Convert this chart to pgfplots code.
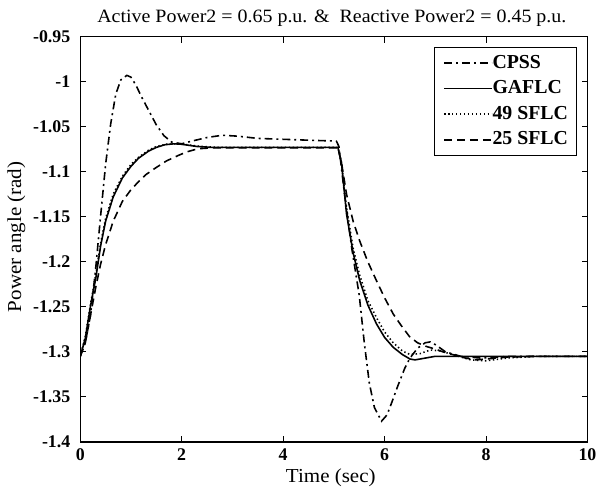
\documentclass[border=0pt]{standalone}
\usepackage{fontspec}
\setmainfont{Liberation Serif}
\newfontfamily\labelfont[FakeStretch=1.06]{Liberation Serif}
\usepackage{pgfplots}
\pgfplotsset{compat=1.18}

\begin{document}
\begin{tikzpicture}
\begin{axis}[
    name=ax,
    scale only axis,
    width=256pt, height=204.5pt,
    xmin=0, xmax=10,
    ymin=-1.4, ymax=-0.95,
    xtick={0,2,...,10},
    ytick={-1.4,-1.35,...,-0.94},
    yticklabel style={/pgf/number format/fixed, /pgf/number format/precision=2, xshift=-1.5pt},
    /pgf/number format/assume math mode=true,
    tick label style={font=\fontsize{9}{10}\selectfont\bfseries},
    tick style={black, line width=0.5pt},
    major tick length=3pt,
    axis line style={line width=0.7pt},
    xlabel={Time (sec)},
    ylabel={Power angle (rad)},
    label style={font=\labelfont\fontsize{10}{12}\selectfont},
    xlabel style={at={(axis description cs:0.494,0)}, anchor=base, yshift=-20.5pt},
    ylabel style={at={(axis description cs:-0.1445,0.506)}, anchor=north, inner sep=0pt},
    every axis title shift=0pt,
    title={Active Power2 = 0.65 p.u. \&\ \ Reactive Power2 = 0.45 p.u.},
    title style={font=\labelfont\fontsize{9.5}{11}\selectfont,
        at={(axis description cs:0.496,1)}, anchor=base, yshift=7pt},
    legend style={at={(rel axis cs:0.980,0.9756)}, anchor=north east,
        font=\fontsize{10}{12}\selectfont\bfseries, draw=black, line width=0.5pt,
        inner xsep=4.5pt, inner ysep=3.6pt, row sep=3.9pt, column sep=0pt,
        nodes={inner sep=0pt, text height=7pt, text depth=2pt}},
    legend cell align=left,
    legend image code/.code={\draw[#1] (0pt,0pt) -- (24pt,0pt);},
    every axis plot/.append style={line width=0.8pt, black},
]
% CPSS
\addplot[dash pattern=on 4pt off 2pt on 1pt off 2pt] coordinates {
(0,-1.305)(0.1,-1.29)(0.2,-1.26)(0.3,-1.21)(0.4,-1.15)(0.5,-1.092)(0.6,-1.047)(0.7,-1.014)(0.8,-0.998)(0.92,-0.993)(1.0,-0.995)(1.1,-1.004)(1.2,-1.016)(1.35,-1.032)(1.5,-1.048)(1.65,-1.06)(1.8,-1.067)(2.0,-1.069)(2.2,-1.066)(2.5,-1.062)(2.8,-1.0595)(3.1,-1.0605)(3.5,-1.063)(4.0,-1.064)(4.5,-1.065)(5.05,-1.066)(5.1,-1.072)(5.2,-1.12)(5.35,-1.184)(5.5,-1.237)(5.6,-1.29)(5.7,-1.335)(5.8,-1.362)(5.94,-1.377)(6.05,-1.37)(6.15,-1.355)(6.26,-1.338)(6.4,-1.318)(6.5,-1.307)(6.65,-1.296)(6.8,-1.29)(6.9,-1.289)(7.0,-1.292)(7.2,-1.3)(7.5,-1.305)(7.9,-1.307)(8.5,-1.305)(10,-1.305)
};
% GAFLC
\addplot[solid] coordinates {
(0,-1.305)(0.1,-1.285)(0.2,-1.25)(0.31,-1.217)(0.4,-1.183)(0.5,-1.155)(0.65,-1.128)(0.83,-1.107)(1.0,-1.094)(1.15,-1.085)(1.35,-1.077)(1.5,-1.073)(1.67,-1.070)(1.85,-1.069)(2.0,-1.0695)(2.3,-1.072)(2.6,-1.073)(5.08,-1.073)(5.15,-1.09)(5.25,-1.147)(5.38,-1.19)(5.51,-1.221)(5.67,-1.248)(5.84,-1.269)(6.0,-1.284)(6.17,-1.295)(6.35,-1.303)(6.5,-1.308)(6.6,-1.309)(6.8,-1.307)(7.0,-1.305)(10,-1.305)
};
% 49 SFLC
\addplot[dash pattern=on 0.7pt off 1.3pt] coordinates {
(0,-1.305)(0.1,-1.283)(0.2,-1.248)(0.31,-1.213)(0.4,-1.18)(0.5,-1.152)(0.65,-1.125)(0.83,-1.105)(1.0,-1.092)(1.15,-1.084)(1.35,-1.076)(1.5,-1.072)(1.7,-1.0695)(1.9,-1.069)(2.1,-1.070)(2.4,-1.072)(2.7,-1.073)(5.08,-1.073)(5.15,-1.09)(5.25,-1.14)(5.38,-1.185)(5.51,-1.215)(5.67,-1.243)(5.84,-1.262)(6.0,-1.278)(6.17,-1.29)(6.35,-1.299)(6.5,-1.303)(6.7,-1.302)(6.9,-1.298)(7.1,-1.299)(7.4,-1.304)(7.7,-1.309)(8.0,-1.31)(8.4,-1.307)(9,-1.305)(10,-1.305)
};
% 25 SFLC
\addplot[dash pattern=on 4pt off 2.5pt] coordinates {
(0,-1.305)(0.1,-1.29)(0.2,-1.26)(0.3,-1.23)(0.4,-1.203)(0.5,-1.181)(0.65,-1.155)(0.83,-1.133)(1.0,-1.12)(1.15,-1.111)(1.3,-1.103)(1.48,-1.096)(1.7,-1.088)(1.93,-1.082)(2.1,-1.078)(2.32,-1.0745)(2.6,-1.0735)(5.08,-1.0735)(5.15,-1.09)(5.25,-1.125)(5.38,-1.155)(5.51,-1.177)(5.67,-1.2)(5.84,-1.221)(6.0,-1.24)(6.17,-1.258)(6.33,-1.271)(6.49,-1.283)(6.65,-1.29)(6.82,-1.294)(7.0,-1.297)(7.15,-1.3)(7.4,-1.304)(7.6,-1.307)(7.79,-1.309)(8.0,-1.308)(8.4,-1.306)(9,-1.305)(10,-1.305)
};
\legend{CPSS, GAFLC, 49 SFLC, 25 SFLC}
\end{axis}
% page frame with the reference's margins round the axis box
\path ([shift={(-40.5pt,-23.5pt)}]ax.south west) rectangle ([shift={(5pt,18.5pt)}]ax.north east);
\end{tikzpicture}
\end{document}
